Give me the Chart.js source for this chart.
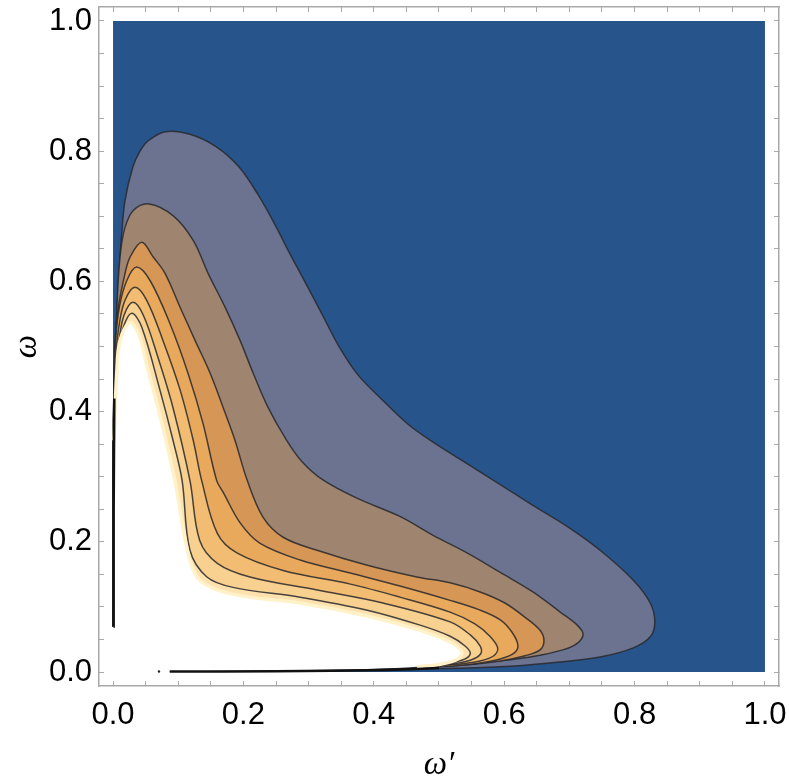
<!DOCTYPE html>
<html>
<head>
<meta charset="utf-8">
<script src="https://cdn.jsdelivr.net/npm/chart.js@4"></script>
<style>
  html, body { margin: 0; padding: 0; background: #fff; }
  canvas { display: block; }
</style>
</head>
<body>
<canvas id="myChart" width="789" height="783"></canvas>
<script>
// contour levels, outermost first, as [ω′, ω] pairs
const plotSquare = [[0, 0], [1, 0], [1, 1], [0, 1]];

const level1 = [[0.000,0.070],[0.000,0.300],[0.0015,0.443],[0.0046,0.520],[0.0097,0.621],[0.0133,0.673],[0.0184,0.724],[0.0302,0.775],[0.0414,0.800],[0.0541,0.816],[0.080,0.830],[0.118,0.826],[0.158,0.807],[0.193,0.776],[0.222,0.734],[0.248,0.688],[0.271,0.643],[0.294,0.600],[0.320,0.551],[0.346,0.501],[0.376,0.456],[0.412,0.419],[0.452,0.381],[0.491,0.353],[0.543,0.320],[0.594,0.288],[0.644,0.256],[0.696,0.224],[0.747,0.187],[0.798,0.141],[0.824,0.106],[0.831,0.077],[0.824,0.054],[0.798,0.037],[0.747,0.023],[0.670,0.014],[0.594,0.008],[0.491,0.005],[0.400,0.004],[0.300,0.002],[0.087,0.001]];

const level2 = [[0.000,0.070],[0.000,0.300],[0.0025,0.443],[0.0046,0.520],[0.0077,0.597],[0.0118,0.647],[0.0184,0.683],[0.0311,0.709],[0.0552,0.719],[0.092,0.701],[0.123,0.663],[0.146,0.612],[0.172,0.560],[0.195,0.509],[0.215,0.459],[0.238,0.406],[0.265,0.358],[0.290,0.323],[0.322,0.295],[0.374,0.267],[0.440,0.239],[0.491,0.210],[0.543,0.183],[0.594,0.153],[0.644,0.123],[0.686,0.092],[0.712,0.072],[0.721,0.058],[0.712,0.044],[0.690,0.034],[0.640,0.023],[0.563,0.014],[0.486,0.008],[0.400,0.005],[0.300,0.003],[0.087,0.001]];

const level3 = [[0.000,0.070],[0.000,0.300],[0.0015,0.443],[0.003,0.509],[0.0081,0.560],[0.0184,0.612],[0.026,0.637],[0.044,0.660],[0.062,0.637],[0.080,0.612],[0.103,0.560],[0.126,0.509],[0.149,0.459],[0.169,0.406],[0.187,0.356],[0.206,0.294],[0.230,0.238],[0.261,0.207],[0.313,0.187],[0.390,0.164],[0.466,0.146],[0.517,0.137],[0.563,0.123],[0.601,0.106],[0.632,0.084],[0.655,0.064],[0.661,0.048],[0.655,0.034],[0.632,0.025],[0.594,0.017],[0.543,0.011],[0.491,0.008],[0.400,0.005],[0.300,0.003],[0.087,0.001]];

const level4 = [[0.000,0.070],[0.000,0.300],[0.0015,0.443],[0.004,0.509],[0.0097,0.560],[0.021,0.601],[0.0363,0.622],[0.057,0.601],[0.0874,0.535],[0.115,0.459],[0.138,0.382],[0.159,0.294],[0.169,0.276],[0.195,0.229],[0.225,0.198],[0.287,0.172],[0.364,0.152],[0.440,0.132],[0.517,0.110],[0.563,0.095],[0.594,0.080],[0.612,0.061],[0.621,0.041],[0.615,0.029],[0.594,0.020],[0.563,0.014],[0.517,0.009],[0.400,0.005],[0.300,0.003],[0.087,0.001]];

const level5 = [[0.000,0.070],[0.000,0.300],[0.0015,0.417],[0.004,0.483],[0.0097,0.535],[0.0184,0.571],[0.0337,0.591],[0.0517,0.571],[0.0767,0.509],[0.103,0.433],[0.123,0.356],[0.136,0.294],[0.160,0.213],[0.190,0.183],[0.261,0.156],[0.364,0.135],[0.440,0.115],[0.517,0.092],[0.555,0.074],[0.578,0.055],[0.590,0.037],[0.584,0.025],[0.563,0.017],[0.517,0.011],[0.400,0.005],[0.300,0.003],[0.087,0.001]];

const level6 = [[0.000,0.070],[0.000,0.300],[0.0015,0.400],[0.004,0.459],[0.0092,0.509],[0.0169,0.548],[0.0307,0.568],[0.0465,0.548],[0.069,0.483],[0.092,0.406],[0.118,0.294],[0.133,0.202],[0.160,0.167],[0.210,0.146],[0.313,0.126],[0.414,0.106],[0.517,0.077],[0.548,0.057],[0.563,0.040],[0.564,0.028],[0.548,0.018],[0.517,0.012],[0.400,0.006],[0.300,0.003],[0.087,0.001]];

const level7 = [[0.000,0.070],[0.000,0.300],[0.001,0.380],[0.0035,0.443],[0.0081,0.494],[0.0158,0.530],[0.0287,0.551],[0.044,0.530],[0.072,0.433],[0.092,0.356],[0.106,0.294],[0.118,0.187],[0.144,0.146],[0.184,0.130],[0.287,0.115],[0.390,0.095],[0.471,0.072],[0.517,0.055],[0.540,0.040],[0.548,0.028],[0.535,0.018],[0.502,0.012],[0.400,0.006],[0.300,0.003],[0.087,0.001]];

// region beyond the last level (left blank in the plot)
const blankRegion = [[0.000,0.000],[0.000,0.070],[0.0015,0.356],[0.0057,0.459],[0.0107,0.509],[0.026,0.537],[0.040,0.517],[0.052,0.470],[0.069,0.406],[0.095,0.294],[0.113,0.192],[0.129,0.146],[0.160,0.126],[0.210,0.115],[0.287,0.106],[0.390,0.086],[0.471,0.064],[0.517,0.046],[0.535,0.031],[0.529,0.020],[0.502,0.012],[0.466,0.008],[0.400,0.005],[0.300,0.003],[0.087,0.001],[0.087,0.000]];

// the dark edges along ω′ = 0 and ω = 0
const leftEdge = [[0.0005,0.070],[0.001,0.250],[0.002,0.420]];
const bottomEdge = [[0.087,0.0008],[0.250,0.0012],[0.420,0.003],[0.500,0.006]];
const strayDot = [[0.0705,0.0008]];

const levels = [level1, level2, level3, level4, level5, level6, level7];
const bandColors = ['#6b7391', '#9f856f', '#d59656', '#e8a95c', '#f2bc72', '#f8d08f', '#fde2ae'];

const tickStep = 0.05;
const labelStep = 0.2;
const axisMin = -0.0215;
const axisMax = 1.0215;

const toPoints = arr => arr.map(([x, y]) => ({x, y}));
const lineColor = 'rgba(40,40,45,0.85)';
const frameColor = '#a9a9a9';
const tickFont = {family: 'Liberation Sans', size: 31};
const titleFont = {family: 'Liberation Serif', size: 33, style: 'italic'};

const datasets = [];
datasets.push({
  data: toPoints(plotSquare), showLine: true, fill: 'shape',
  backgroundColor: '#27558b', borderWidth: 0, pointRadius: 0, order: 20
});
levels.forEach((lvl, i) => {
  datasets.push({
    data: toPoints(lvl), showLine: true, fill: 'shape',
    backgroundColor: bandColors[i], borderColor: lineColor, borderWidth: 1.5,
    pointRadius: 0, tension: 0.35, order: 19 - i
  });
});
datasets.push({
  data: toPoints(blankRegion), showLine: true, fill: 'shape',
  backgroundColor: '#ffffff', borderWidth: 0,
  pointRadius: 0, tension: 0.35, order: 6
});
// pale rim along the blank region's curved edge only
datasets.push({
  data: toPoints(blankRegion.slice(2, -4)), showLine: true, fill: false,
  borderColor: '#fff1c8', borderWidth: 3.5,
  pointRadius: 0, tension: 0.35, order: 5
});
datasets.push({
  data: toPoints(leftEdge), showLine: true, fill: false,
  borderColor: '#111', borderWidth: 2.5, pointRadius: 0, tension: 0, order: 1
});
datasets.push({
  data: toPoints(bottomEdge), showLine: true, fill: false,
  borderColor: '#111', borderWidth: 2.5, pointRadius: 0, tension: 0.3, order: 1
});
datasets.push({
  data: toPoints(strayDot), showLine: false,
  backgroundColor: '#222', borderWidth: 0, pointRadius: 1.2, order: 0
});

const labelOnly = v => Math.abs(v / labelStep - Math.round(v / labelStep)) < 1e-6 ? v.toFixed(1) : '';
const frameAxis = (position, size, labelled, title, tickPadding) => ({
  type: 'linear',
  position,
  min: axisMin,
  max: axisMax,
  ticks: {
    display: labelled,
    stepSize: tickStep,
    includeBounds: false,
    autoSkip: false,
    maxRotation: 0,
    font: tickFont,
    color: '#000',
    padding: tickPadding,
    callback: labelOnly
  },
  grid: {drawOnChartArea: false, tickLength: -5, tickColor: frameColor, tickWidth: 1},
  border: {display: true, color: frameColor, width: 1.5},
  title: title,
  afterFit: scale => {
    if (scale.isHorizontal()) scale.height = size; else scale.width = size;
    // let the end labels overhang the frame instead of shrinking it
    scale.paddingLeft = scale.paddingRight = scale.paddingTop = scale.paddingBottom = 0;
  }
});

new Chart(document.getElementById('myChart').getContext('2d'), {
  type: 'scatter',
  data: {datasets},
  options: {
    responsive: false,
    animation: false,
    events: [],
    layout: {padding: 0},
    plugins: {legend: {display: false}, tooltip: {enabled: false}},
    scales: {
      x: frameAxis('bottom', 97, true,
        {display: true, text: 'ω′', font: titleFont, color: '#000', padding: {top: 0, bottom: -2}}, 16),
      x2: frameAxis('top', 7, false, {display: false}, 0),
      y: frameAxis('left', 99, true,
        {display: true, text: 'ω', font: titleFont, color: '#000', padding: {top: 8, bottom: 0}}, 12),
      y2: frameAxis('right', 10, false, {display: false}, 0)
    }
  }
});
</script>
</body>
</html>
